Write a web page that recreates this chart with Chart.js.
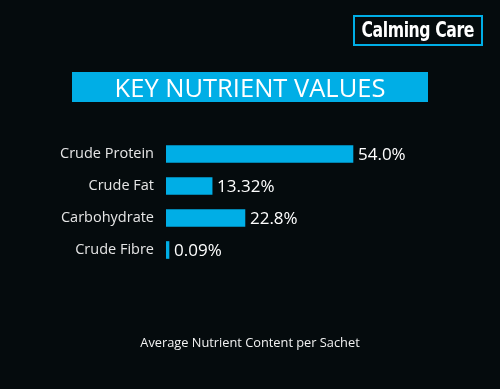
<!DOCTYPE html>
<html>
<head>
<meta charset="utf-8">
<script src="https://cdn.jsdelivr.net/npm/chart.js@4"></script>
<style>
  html, body { margin: 0; padding: 0; background: #050b0d; }
  .wrap { position: relative; width: 500px; height: 389px; overflow: hidden; background: #050b0d; }
  #chart { position: absolute; left: 0; top: 0; }
  .brand {
    position: absolute; left: 353px; top: 15px; width: 126px; height: 27px;
    border: 2px solid #00aee6; color: #fff; text-align: center; white-space: nowrap;
    font: bold 21px "DejaVu Sans Condensed", "Liberation Sans Narrow", sans-serif; line-height: 27px;
  }
  .brand span { display: inline-block; margin: 0 -20px; transform: scaleX(0.83); letter-spacing: -0.5px; }
  .title {
    position: absolute; left: 72px; top: 72px; width: 356px; height: 30px;
    background: #00aee6; color: #fff; text-align: center; white-space: nowrap;
    font: 400 25.5px "Open Sans", sans-serif; line-height: 30px;
  }
  .footer {
    position: absolute; left: 0; top: 333px; width: 500px; text-align: center;
    color: #f2f2f2; font: 400 12.8px "Open Sans", sans-serif;
  }
</style>
</head>
<body>
<div class="wrap">
  <canvas id="chart" width="500" height="389"></canvas>
  <div class="brand"><span>Calming Care</span></div>
  <div class="title">KEY NUTRIENT VALUES</div>
  <div class="footer">Average Nutrient Content per Sachet</div>
</div>
<script>
const nutrients = ["Crude Protein", "Crude Fat", "Carbohydrate", "Crude Fibre"];
const values = [54.0, 13.32, 22.8, 0.09];
const valueLabels = ["54.0%", "13.32%", "22.8%", "0.09%"];

const barColor = "#00aee6";

// writes the percentage just right of every bar
const valueText = {
  id: "valueText",
  afterDatasetsDraw(chart) {
    const ctx = chart.ctx;
    const meta = chart.getDatasetMeta(0);
    ctx.save();
    ctx.fillStyle = "#ffffff";
    ctx.font = "400 17px 'Open Sans', sans-serif";
    ctx.textAlign = "left";
    ctx.textBaseline = "middle";
    meta.data.forEach((bar, i) => {
      ctx.fillText(valueLabels[i], bar.x + 5, bar.y + 1);
    });
    ctx.restore();
  }
};

const ctx = document.getElementById("chart");

new Chart(ctx, {
  type: "bar",
  data: {
    labels: nutrients,
    datasets: [{
      data: values,
      backgroundColor: barColor,
      borderWidth: 0,
      barThickness: 17,
      minBarLength: 3
    }]
  },
  options: {
    indexAxis: "y",
    responsive: false,
    animation: false,
    layout: { padding: { top: 138, bottom: 123, right: 57, left: 0 } },
    plugins: {
      legend: { display: false },
      tooltip: { enabled: false }
    },
    scales: {
      x: {
        display: false,
        min: 0,
        max: 80
      },
      y: {
        grid: { display: false, drawTicks: false },
        border: { display: false },
        ticks: {
          color: "#e6e6e6",
          padding: 12,
          font: { family: "Open Sans", size: 14.5 }
        },
        afterFit: s => { s.width = 166; }
      }
    }
  },
  plugins: [valueText]
});
</script>
</body>
</html>
